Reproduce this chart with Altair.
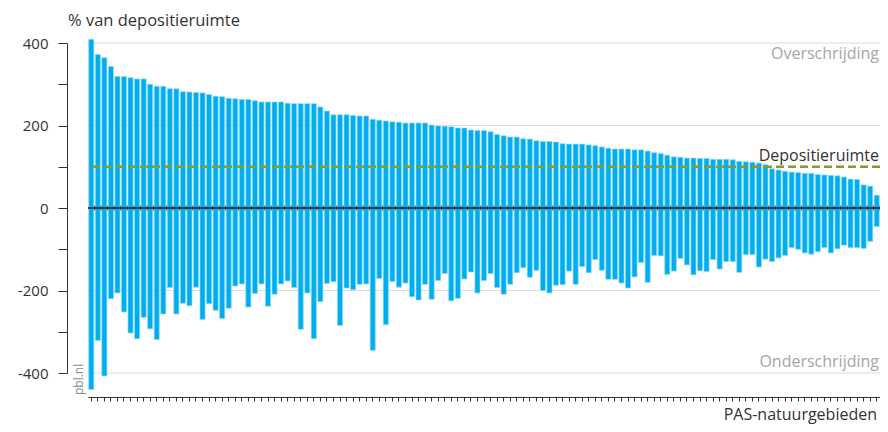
import altair as alt
import pandas as pd

# ---- data ----
gebied = list(range(1, 122))
overschrijding = [409, 372, 364, 343, 319, 319, 316, 313, 313, 300, 295, 295, 289, 289, 282, 281, 280, 279, 275, 271,
                  270, 266, 265, 263, 263, 260, 257, 257, 257, 257, 254, 253, 253, 253, 253, 245, 235, 226, 226, 226,
                  224, 223, 223, 215, 213, 211, 209, 208, 206, 206, 206, 206, 201, 199, 198, 197, 194, 194, 189, 188,
                  188, 185, 178, 175, 172, 172, 168, 167, 163, 161, 161, 160, 156, 155, 155, 155, 153, 151, 148, 145,
                  143, 143, 143, 141, 141, 138, 134, 132, 128, 124, 123, 121, 121, 120, 120, 118, 118, 118, 117, 113,
                  112, 111, 109, 105, 95, 92, 89, 87, 86, 84, 84, 81, 80, 79, 78, 75, 70, 69, 56, 53, 31]
onderschrijding = [-440, -321, -407, -220, -206, -252, -303, -317, -265, -293, -319, -257, -193, -257, -231, -237, -192, -270, -232, -248,
                   -268, -243, -189, -184, -240, -207, -184, -238, -209, -184, -177, -193, -294, -206, -317, -227, -183, -179, -285, -194,
                   -198, -185, -184, -345, -171, -283, -178, -192, -182, -215, -223, -185, -221, -176, -159, -225, -219, -172, -155, -206,
                   -176, -159, -193, -209, -185, -157, -145, -168, -151, -200, -206, -187, -186, -153, -185, -142, -157, -125, -151, -173,
                   -173, -182, -194, -167, -132, -180, -115, -116, -161, -153, -122, -138, -162, -152, -154, -125, -148, -130, -130, -156,
                   -113, -113, -143, -124, -130, -121, -115, -96, -100, -109, -112, -106, -96, -109, -99, -90, -96, -96, -98, -81, -45]
y_ticks = [-400, -300, -200, -100, 0, 100, 200, 300, 400]
grid_values = [400, 200, -200, -400]
depositieruimte = 100

df = pd.DataFrame({"gebied": gebied, "boven": overschrijding, "onder": onderschrijding})

W, H = 792, 330
FONT = "Open Sans"
DARK = "#333333"

x_scale = alt.Scale(paddingInner=0.22, paddingOuter=0.11)
x_axis = alt.Axis(title=None, labels=False, ticks=True, tickSize=4, tickColor=DARK,
                  domainColor=DARK, offset=24, grid=False)
y_scale = alt.Scale(domain=[-400, 400], nice=False)
y_axis = alt.Axis(values=y_ticks,
                  labelExpr="datum.value % 200 == 0 ? toString(datum.value) : ''",
                  offset=21, tickSize=9, labelPadding=10, grid=False,
                  domainColor=DARK, tickColor=DARK, labelColor=DARK,
                  labelFont=FONT, labelFontSize=15, title=None)


def Y(field):
    return alt.Y(field, scale=y_scale, axis=y_axis)


grid = alt.Chart(pd.DataFrame({"v": grid_values})).mark_rule(color="#dcdcdc", strokeWidth=1).encode(
    y=Y("v:Q"))

bars = alt.Chart(df).mark_bar(color="#00AEEF", stroke="#8fd9f5", strokeWidth=0.7).encode(
    x=alt.X("gebied:O", scale=x_scale, axis=x_axis),
    y=Y("boven:Q"),
    y2="onder:Q")

dep_line = alt.Chart(pd.DataFrame({"v": [depositieruimte]})).mark_rule(
    color="#8a9a2a", strokeDash=[8, 4], strokeWidth=2.5).encode(y=Y("v:Q"))

zero_line = alt.Chart(pd.DataFrame({"v": [0]})).mark_rule(color="#1a1a1a", strokeWidth=1.5).encode(
    y=Y("v:Q"))

zero_ticks = alt.Chart(df).transform_calculate(z="0").mark_tick(
    orient="vertical", size=5, thickness=1.2, color="#222222", xOffset=3.3).encode(
    x=alt.X("gebied:O", scale=x_scale, axis=x_axis),
    y=Y("z:Q"))


def label(text, x, yval, align="left", baseline="alphabetic", color=DARK, size=16, angle=0, dy=0):
    base = alt.Chart(pd.DataFrame({"t": [text], "v": [yval]})).mark_text(
        align=align, baseline=baseline, color=color, fontSize=size, font=FONT, angle=angle, dy=dy)
    return base.encode(x=alt.value(x), y=Y("v:Q"), text="t:N")


def plabel(text, x, ypx, align="left", baseline="alphabetic", color=DARK, size=16, angle=0):
    return alt.Chart(pd.DataFrame({"t": [text]})).mark_text(
        align=align, baseline=baseline, color=color, fontSize=size, font=FONT, angle=angle
    ).encode(x=alt.value(x), y=alt.value(ypx), text="t:N")


over = label("Overschrijding", W - 1, 400, align="right", baseline="top", color="#a6a6a6", dy=3)
onder = label("Onderschrijding", W - 1, -400, align="right", color="#a6a6a6", dy=-6)
dep = label("Depositieruimte", W - 1, depositieruimte, align="right", dy=-6)
ytitle = plabel("% van depositieruimte", -20, -17, size=16.5)
xtitle = plabel("PAS-natuurgebieden", W - 3, 377, align="right")
pbl = plabel("pbl.nl", -5, 352, color="#8c8c8c", size=12, angle=270)

chart = alt.layer(grid, bars, dep_line, zero_line, zero_ticks, over, onder, dep, ytitle, xtitle, pbl).properties(
    width=W, height=H,
    autosize=alt.AutoSizeParams(type="none"),
    padding={"left": 80, "top": 35, "right": 0, "bottom": 51},
    background="white"
).configure_view(stroke=None)

chart.save("out.html", embed_options={"renderer": "svg", "actions": False})
